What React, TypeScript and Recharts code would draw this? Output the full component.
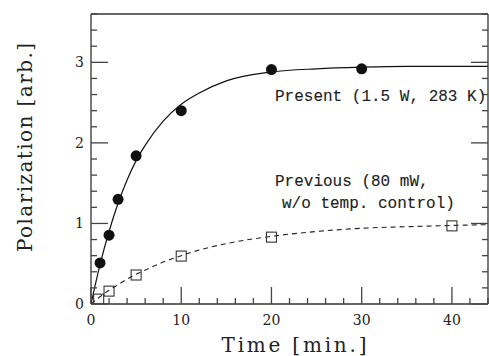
import React from 'react';
import { ComposedChart, Line, Scatter, XAxis, YAxis } from 'recharts';

// fitted curves
const fitTimes = [0, 1, 2, 3, 4, 5, 6, 8, 10, 12, 15, 20, 25, 30, 35, 40, 44];
const presentFit = [0, 0.49, 0.9, 1.25, 1.54, 1.78, 1.97, 2.27, 2.48, 2.62, 2.77, 2.88, 2.92, 2.94, 2.95, 2.95, 2.95];
const previousFit = [0, 0.09, 0.17, 0.24, 0.31, 0.37, 0.42, 0.52, 0.6, 0.67, 0.75, 0.84, 0.9, 0.94, 0.96, 0.975, 0.985];

// measured points
const presentTimes = [1, 2, 3, 5, 10, 20, 30];
const presentValues = [0.51, 0.855, 1.3, 1.84, 2.4, 2.91, 2.92];
const previousTimes = [0.85, 2, 5, 10, 20, 40];
const previousValues = [0.06, 0.16, 0.36, 0.595, 0.83, 0.97];

const xTicks = [0, 2, 4, 6, 8, 10, 12, 14, 16, 18, 20, 22, 24, 26, 28, 30, 32, 34, 36, 38, 40, 42, 44];
const yTicks = [0, 0.2, 0.4, 0.6, 0.8, 1, 1.2, 1.4, 1.6, 1.8, 2, 2.2, 2.4, 2.6, 2.8, 3, 3.2, 3.4, 3.6];

const presentFitData = fitTimes.map((x, i) => ({ x, y: presentFit[i] }));
const previousFitData = fitTimes.map((x, i) => ({ x, y: previousFit[i] }));
const presentData = presentTimes.map((x, i) => ({ x, y: presentValues[i] }));
const previousData = previousTimes.map((x, i) => ({ x, y: previousValues[i] }));

const ink = '#222';
const tickColor = '#444';
const tickFont = 'DejaVu Serif';
const monoFont = 'Liberation Mono';

const isMajorX = (v: number) => v % 10 === 0;
const isMajorY = (v: number) => Number.isInteger(v);

const BottomTick = (p: any) => {
  const v = p.payload.value;
  const major = isMajorX(v);
  return (
    <g>
      <line x1={p.x} y1={p.y} x2={p.x} y2={p.y - (major ? 17 : 6)} stroke={tickColor} strokeWidth={1.3} />
      {major && (
        <text x={p.x} y={p.y + 21} textAnchor="middle" fontFamily={tickFont} fontSize={14} fill={ink}>
          {v}
        </text>
      )}
    </g>
  );
};

const TopTick = (p: any) => {
  const major = isMajorX(p.payload.value);
  return <line x1={p.x} y1={p.y} x2={p.x} y2={p.y + (major ? 17 : 6)} stroke={tickColor} strokeWidth={1.3} />;
};

const LeftTick = (p: any) => {
  const v = p.payload.value;
  const major = isMajorY(v);
  return (
    <g>
      <line x1={p.x} y1={p.y} x2={p.x + (major ? 17 : 6)} y2={p.y} stroke={tickColor} strokeWidth={1.3} />
      {major && (
        <text x={p.x - 7} y={p.y + 5} textAnchor="end" fontFamily={tickFont} fontSize={14} fill={ink}>
          {v}
        </text>
      )}
    </g>
  );
};

const RightTick = (p: any) => {
  const major = isMajorY(p.payload.value);
  return <line x1={p.x} y1={p.y} x2={p.x - (major ? 17 : 6)} y2={p.y} stroke={tickColor} strokeWidth={1.3} />;
};

const Dot = (p: any) => <circle cx={p.cx} cy={p.cy} r={5.5} fill="#111" />;
const Box = (p: any) => (
  <rect x={p.cx - 5} y={p.cy - 5} width={10} height={10} fill="none" stroke="#333" strokeWidth={1.1} />
);

const axisLine = { stroke: '#333', strokeWidth: 1.3 };

export default function App() {
  return (
    <div style={{ position: 'absolute', left: 0, top: 0, width: 489, height: 356, background: '#fff' }}>
      <ComposedChart width={489} height={356} margin={{ top: 13, right: 0, bottom: 0, left: 1 }}>
        <XAxis
          xAxisId="b"
          type="number"
          dataKey="x"
          domain={[0, 44]}
          ticks={xTicks}
          interval={0}
          allowDataOverflow
          height={52}
          tickSize={0}
          tickMargin={0}
          tickLine={false}
          axisLine={axisLine}
          tick={(p: any) => <BottomTick {...p} />}
        />
        <XAxis
          xAxisId="t"
          orientation="top"
          type="number"
          domain={[0, 44]}
          ticks={xTicks}
          interval={0}
          allowDataOverflow
          height={1}
          tickSize={0}
          tickMargin={0}
          tickLine={false}
          axisLine={axisLine}
          tick={(p: any) => <TopTick {...p} />}
        />
        <YAxis
          yAxisId="l"
          type="number"
          dataKey="y"
          domain={[0, 3.6]}
          ticks={yTicks}
          interval={0}
          allowDataOverflow
          width={90}
          tickSize={0}
          tickMargin={0}
          tickLine={false}
          axisLine={axisLine}
          tick={(p: any) => <LeftTick {...p} />}
        />
        <YAxis
          yAxisId="r"
          orientation="right"
          type="number"
          domain={[0, 3.6]}
          ticks={yTicks}
          interval={0}
          allowDataOverflow
          width={1}
          tickSize={0}
          tickMargin={0}
          tickLine={false}
          axisLine={axisLine}
          tick={(p: any) => <RightTick {...p} />}
        />
        <Line
          xAxisId="b"
          yAxisId="l"
          data={presentFitData}
          dataKey="y"
          type="monotone"
          stroke="#111"
          strokeWidth={1.2}
          dot={false}
          activeDot={false}
          isAnimationActive={false}
        />
        <Line
          xAxisId="b"
          yAxisId="l"
          data={previousFitData}
          dataKey="y"
          type="monotone"
          stroke="#222"
          strokeWidth={1.1}
          strokeDasharray="5 4"
          dot={false}
          activeDot={false}
          isAnimationActive={false}
        />
        <Scatter xAxisId="b" yAxisId="l" data={presentData} dataKey="y" shape={Dot} isAnimationActive={false} />
        <Scatter xAxisId="b" yAxisId="l" data={previousData} dataKey="y" shape={Box} isAnimationActive={false} />
      </ComposedChart>
      <svg
        width={489}
        height={356}
        style={{ position: 'absolute', left: 0, top: 0, pointerEvents: 'none' }}
      >
        <g fontFamily={monoFont} fontSize={16} fill={ink} stroke={ink} strokeWidth={0.12}>
          <text x={275} y={101}>Present (1.5 W, 283 K)</text>
          <text x={275} y={186}>Previous (80 mW,</text>
          <text x={282} y={208}>w/o temp. control)</text>
        </g>
        <text
          x={294}
          y={352}
          textAnchor="middle"
          fontFamily={tickFont}
          fontSize={20}
          textLength={145}
          lengthAdjust="spacing"
          fill={ink}
        >
          Time [min.]
        </text>
        <text
          transform="translate(31.5,147.5) rotate(-90)"
          textAnchor="middle"
          fontFamily={tickFont}
          fontSize={20}
          textLength={209}
          lengthAdjust="spacing"
          fill={ink}
        >
          Polarization [arb.]
        </text>
      </svg>
    </div>
  );
}
